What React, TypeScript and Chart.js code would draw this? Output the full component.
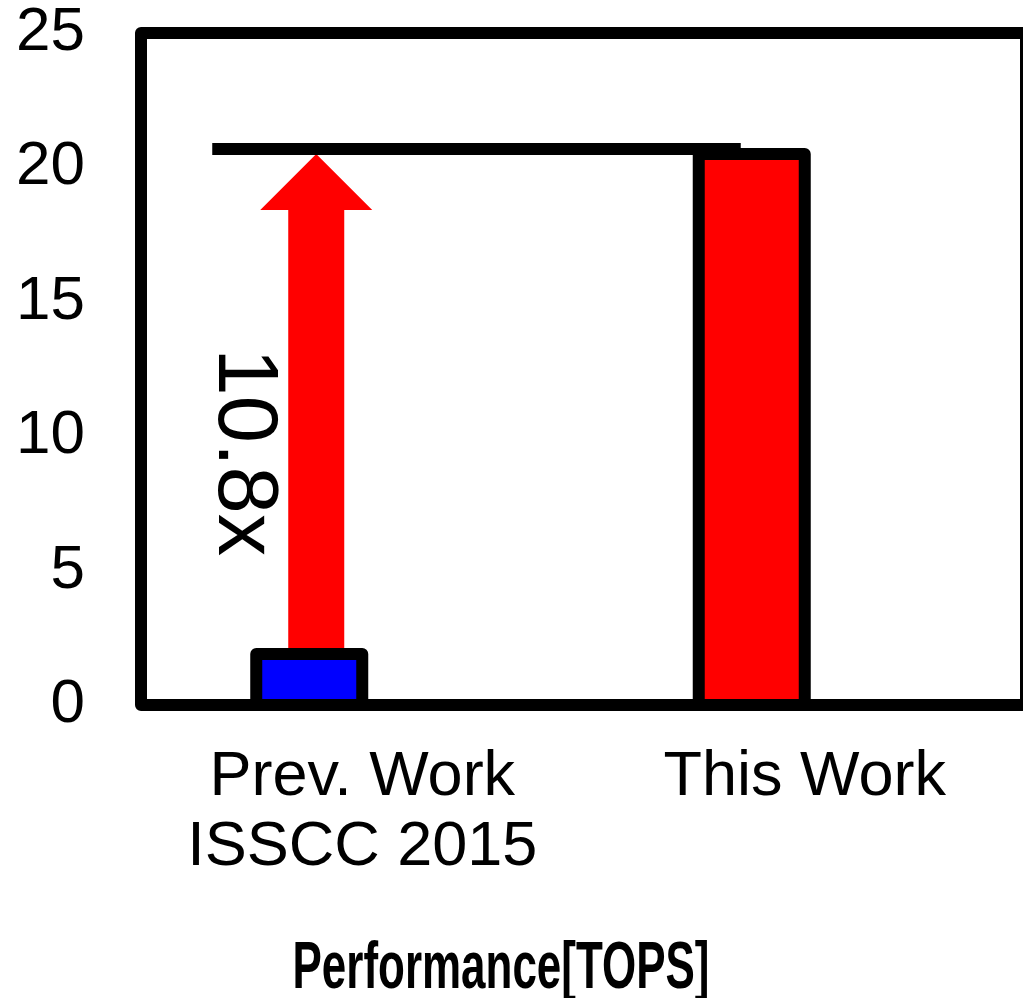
import React, { useEffect, useRef } from 'react';
import { Chart, registerables } from 'chart.js';

Chart.register(...registerables);

// Chart data
const categories: (string | string[])[] = [['Prev. Work', 'ISSCC 2015'], 'This Work'];
const performance = [1.9, 20.5];
const barColors = ['#0000ff', '#ff0000'];
// empty companion series: keeps each bar in the left slot of its category
const spacer = [null, null];
const yTicks = [0, 5, 10, 15, 20, 25];
const axisTitle = 'Performance[TOPS]';

const FONT = '"Liberation Sans", Arial, Helvetica, sans-serif';

const overlay = {
  id: 'overlay',
  afterDatasetsDraw(chart: any) {
    const { ctx, chartArea: a, scales } = chart;
    const y = scales.y;
    const bars = chart.getDatasetMeta(0).data as any[];
    const b0 = bars[0].getProps(['x', 'y', 'base', 'width'], true);
    const b1 = bars[1].getProps(['x', 'y', 'base', 'width'], true);
    const tipY = y.getPixelForValue(performance[1]);
    const startY = y.getPixelForValue(performance[0]);

    ctx.save();

    // improvement arrow from the previous value up to the new level
    const ax = b0.x + 7;
    const headH = 56;
    const headW = 56;
    const shaftW = 28;
    ctx.fillStyle = '#ff0000';
    ctx.beginPath();
    ctx.moveTo(ax - shaftW, startY);
    ctx.lineTo(ax - shaftW, tipY + headH);
    ctx.lineTo(ax - headW, tipY + headH);
    ctx.lineTo(ax, tipY);
    ctx.lineTo(ax + headW, tipY + headH);
    ctx.lineTo(ax + shaftW, tipY + headH);
    ctx.lineTo(ax + shaftW, startY);
    ctx.closePath();
    ctx.fill();

    // level line at the new value
    ctx.strokeStyle = '#000';
    ctx.lineWidth = 12;
    ctx.lineCap = 'butt';
    ctx.beginPath();
    ctx.moveTo(b0.x - 97, tipY - 5);
    ctx.lineTo(b1.x - 11, tipY - 5);
    ctx.stroke();

    // bar outlines, centred on the bar edges
    ctx.lineJoin = 'round';
    for (const b of [b0, b1]) {
      const l = b.x - b.width / 2;
      const r = b.x + b.width / 2;
      ctx.beginPath();
      ctx.moveTo(l, b.base);
      ctx.lineTo(l, b.y);
      ctx.lineTo(r, b.y);
      ctx.lineTo(r, b.base);
      ctx.stroke();
    }

    // plot frame
    ctx.lineWidth = 12;
    ctx.strokeRect(a.left, a.top, a.right - a.left, a.bottom - a.top);

    // ratio label, rotated along the arrow
    ctx.fillStyle = '#000';
    ctx.font = `85px ${FONT}`;
    ctx.textAlign = 'center';
    ctx.textBaseline = 'middle';
    ctx.save();
    ctx.translate(b0.x - 67, y.getPixelForValue(9.4));
    ctx.rotate(Math.PI / 2);
    ctx.fillText(`${(performance[1] / performance[0]).toFixed(1)}x`, 0, 0);
    ctx.restore();

    // condensed bold axis title
    ctx.font = `bold 66px ${FONT}`;
    ctx.textBaseline = 'alphabetic';
    ctx.save();
    ctx.translate(501, 988);
    ctx.scale(0.666, 1);
    ctx.fillText(axisTitle, 0, 0);
    ctx.restore();

    ctx.restore();
  },
};

export default function App() {
  const ref = useRef<HTMLCanvasElement | null>(null);

  useEffect(() => {
    if (!ref.current) return;
    const chart = new Chart(ref.current, {
      type: 'bar',
      data: {
        labels: categories as any,
        datasets: [
          {
            label: 'Performance',
            data: performance,
            backgroundColor: barColors,
            borderWidth: 0,
            barPercentage: 1,
            categoryPercentage: 0.4791,
          },
          {
            label: 'spacer',
            data: spacer as any,
            backgroundColor: 'transparent',
            borderWidth: 0,
            barPercentage: 1,
            categoryPercentage: 0.4791,
          },
        ],
      },
      options: {
        animation: false,
        responsive: false,
        layout: { padding: { left: 0, right: 14, top: 33, bottom: 113 } },
        plugins: {
          legend: { display: false },
          tooltip: { enabled: false },
        },
        scales: {
          x: {
            grid: { display: false, drawTicks: false },
            border: { display: false },
            ticks: {
              color: '#000',
              font: { family: FONT, size: 63, lineHeight: 1.111 },
              padding: 38,
              maxRotation: 0,
              autoSkip: false,
            },
            afterFit: (s: any) => {
              s.height = 180;
            },
          },
          y: {
            min: 0,
            max: 25,
            grid: { display: false, drawTicks: false },
            border: { display: false },
            ticks: {
              color: '#000',
              font: { family: FONT, size: 62, lineHeight: 1 },
              padding: 56,
            },
            afterBuildTicks: (s: any) => {
              s.ticks = yTicks.map((v) => ({ value: v }));
            },
            afterFit: (s: any) => {
              s.width = 141;
              s.paddingTop = 0;
              s.paddingBottom = 0;
            },
          },
        },
      },
      plugins: [overlay],
    });
    return () => chart.destroy();
  }, []);

  return (
    <div
      style={{
        position: 'fixed',
        left: 0,
        top: 0,
        width: '100vw',
        height: '100vh',
        overflow: 'hidden',
        background: '#fff',
      }}
    >
      <canvas ref={ref} width={1040} height={998} style={{ display: 'block' }} />
    </div>
  );
}
